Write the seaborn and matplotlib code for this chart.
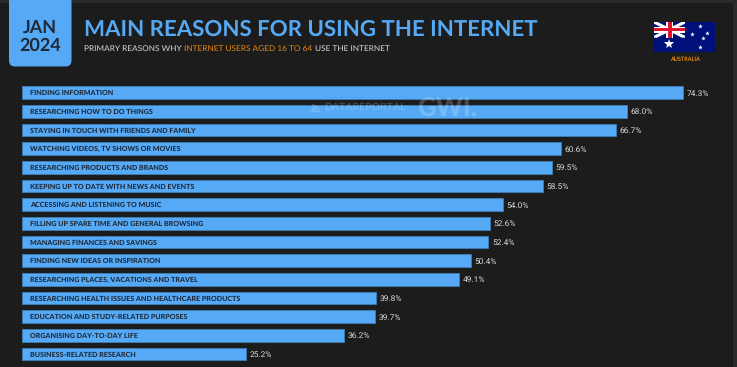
from matplotlib import pyplot as plt
from matplotlib.patches import FancyBboxPatch, Rectangle, Polygon, Arc, Circle
import seaborn as sns
import pandas as pd

reasons = ['FINDING INFORMATION', 'RESEARCHING HOW TO DO THINGS',
           'STAYING IN TOUCH WITH FRIENDS AND FAMILY', 'WATCHING VIDEOS, TV SHOWS OR MOVIES',
           'RESEARCHING PRODUCTS AND BRANDS', 'KEEPING UP TO DATE WITH NEWS AND EVENTS',
           'ACCESSING AND LISTENING TO MUSIC', 'FILLING UP SPARE TIME AND GENERAL BROWSING',
           'MANAGING FINANCES AND SAVINGS', 'FINDING NEW IDEAS OR INSPIRATION',
           'RESEARCHING PLACES, VACATIONS AND TRAVEL',
           'RESEARCHING HEALTH ISSUES AND HEALTHCARE PRODUCTS',
           'EDUCATION AND STUDY-RELATED PURPOSES', 'ORGANISING DAY-TO-DAY LIFE',
           'BUSINESS-RELATED RESEARCH']
shares = [74.3, 68.0, 66.7, 60.6, 59.5, 58.5, 54.0, 52.6, 52.4, 50.4, 49.1, 39.8, 39.7, 36.2, 25.2]

W, H = 737, 367
BG = '#1c1c1c'
BLUE = '#55a9f5'
ORANGE = '#e8890c'
DARK = '#1f2a38'
GREY = '#d8d8d8'

sns.set_theme(style='white')
plt.rcParams['font.family'] = ['Lato', 'DejaVu Sans']
plt.rcParams['text.hinting'] = 'no_hinting'

fig = plt.figure(figsize=(W / 100, H / 100), dpi=100, facecolor=BG)


def px_axes(x0, y0, x1, y1):
    # axes placed in picture pixels, y counted from the top
    return fig.add_axes([x0 / W, 1 - y1 / H, (x1 - x0) / W, (y1 - y0) / H])


# chart: 8.9 px per percentage point, row pitch 18.68 px
ax = px_axes(22, 83.2, 733, 363.4)
ax.set_facecolor('none')
df = pd.DataFrame({'reason': reasons, 'share': shares})
sns.barplot(data=df, x='share', y='reason', color=BLUE, saturation=1, width=0.68,
            edgecolor='#3f7fb8', linewidth=0.6, ax=ax)
ax.set_xlim(0, 711 / 8.9)
ax.set_ylim(14.5, -0.5)
ax.set_xlabel('')
ax.set_ylabel('')
ax.set_xticks([])
ax.set_yticks([])
sns.despine(ax=ax, left=True, bottom=True)
for i, (reason, share) in enumerate(zip(reasons, shares)):
    ax.annotate(reason, (0, i), xytext=(5.7, 0), textcoords='offset points', va='center_baseline',
                ha='left', fontsize=5.15, fontweight='black', color=DARK)
    ax.annotate(f'{share:.1f}%', (share, i), xytext=(2.6, 0), textcoords='offset points',
                va='center_baseline', ha='left', fontsize=6.0, color=GREY, family=['Roboto'])

# page furniture
bg = fig.add_axes([0, 0, 1, 1], zorder=3)
bg.set_xlim(0, W)
bg.set_ylim(H, 0)
bg.axis('off')
bg.patch.set_alpha(0)
bg.add_patch(Rectangle((0, 0), W, 3, color='#2a2a2a', lw=0))
bg.add_patch(Rectangle((733, 0), 4, H, color='#2a2a2a', lw=0))
bg.add_patch(FancyBboxPatch((9, -8), 62.5, 74.5, boxstyle='round,pad=0,rounding_size=6',
                            fc=BLUE, ec='none'))
bg.text(40, 28, 'JAN', ha='center', va='center', fontsize=13, fontweight='bold', color=DARK)
bg.text(40, 45.5, '2024', ha='center', va='center', fontsize=13, fontweight='bold', color=DARK)
bg.text(84, 29.7, 'MAIN REASONS FOR USING THE INTERNET', ha='left', va='center',
        fontsize=16, fontweight='bold', color=BLUE)

# subtitle pieces placed one after the other
x = 84
for piece, col in [('PRIMARY REASONS WHY', GREY), ('INTERNET USERS AGED 16 TO 64', ORANGE),
                   ('USE THE INTERNET', GREY)]:
    t = bg.text(x, 49, piece, ha='left', va='center', fontsize=5.95, color=col)
    fig.canvas.draw()
    x += t.get_window_extent().width + 2.7

bg.text(685, 59, 'AUSTRALIA', ha='center', va='center', fontsize=4, fontweight='bold', color=ORANGE)

# watermark
bg.text(365, 106.7, 'DATAREPORTAL', ha='center', va='center', fontsize=7.5, fontweight='bold',
        color='white', alpha=0.2, zorder=5)
bg.text(447, 108, 'GWI.', ha='center', va='center', fontsize=18.5, fontweight='black',
        color='white', alpha=0.2, zorder=5)
bg.add_patch(Circle((312.5, 111), 1.5, fc='white', ec='none', alpha=0.2))
for d in (8, 14):
    bg.add_patch(Arc((312, 112), d, d, theta1=270, theta2=360, ec='white', lw=1.3, alpha=0.2))

# flag
fl = px_axes(654, 21.7, 715, 51.7)
fl.set_xlim(0, 61)
fl.set_ylim(30, 0)
fl.axis('off')
fl.add_patch(Rectangle((0, 0), 61, 30, color='#00107a', lw=0))
fl.add_patch(Polygon([(0, 0), (3, 0), (31, 14), (31, 16), (28, 16), (0, 2)], color='white', lw=0))
fl.add_patch(Polygon([(28, 0), (31, 0), (31, 2), (3, 16), (0, 16), (0, 14)], color='white', lw=0))
fl.add_patch(Rectangle((12, 0), 7, 16, color='white', lw=0))
fl.add_patch(Rectangle((0, 5), 31, 6, color='white', lw=0))
fl.add_patch(Rectangle((13.5, 0), 4, 16, color='#e0142c', lw=0))
fl.add_patch(Rectangle((0, 6.2), 31, 3.6, color='#e0142c', lw=0))
fl.plot([46, 38, 53, 49, 46], [4.5, 12.5, 11.5, 16.5, 25.5], ls='none', marker='*',
        color='white', ms=3.5, mew=0)
fl.plot([15], [22.5], ls='none', marker='*', color='white', ms=7, mew=0)

fig.savefig('out.png', dpi=100, facecolor=BG)
